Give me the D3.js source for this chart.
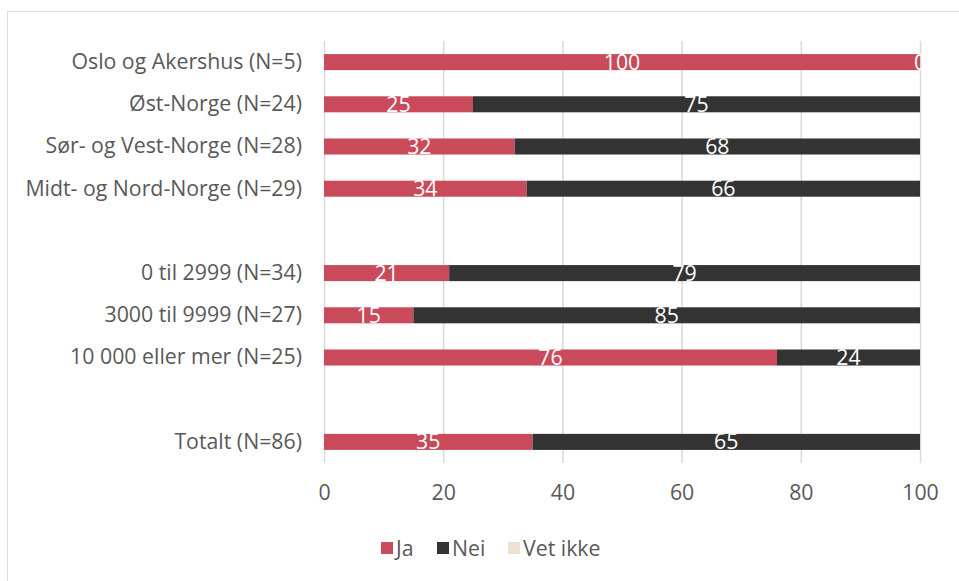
<!DOCTYPE html>
<html>
<head>
<meta charset="utf-8">
<script src="https://cdn.jsdelivr.net/npm/d3@7/dist/d3.min.js"></script>
<style>
  html, body { margin: 0; padding: 0; background: #fff; }
  svg { display: block; font-family: "Open Sans", sans-serif; }
</style>
</head>
<body>
<svg id="chart" width="959" height="581"></svg>
<script>
// Categories top to bottom; empty strings are spacer rows between groups
const categories = [
  "Oslo og Akershus (N=5)",
  "Øst-Norge (N=24)",
  "Sør- og Vest-Norge (N=28)",
  "Midt- og Nord-Norge (N=29)",
  "",
  "0 til 2999 (N=34)",
  "3000 til 9999 (N=27)",
  "10 000 eller mer (N=25)",
  " ",
  "Totalt (N=86)"
];
const jaValues      = [100, 25, 32, 34, null, 21, 15, 76, null, 35];
const neiValues     = [0, 75, 68, 66, null, 79, 85, 24, null, 65];
const vetIkkeValues = [null, null, null, null, null, null, null, null, null, null];
const seriesNames   = ["Ja", "Nei", "Vet ikke"];
const seriesColors  = ["#c94b5b", "#333333", "#ede1d1"];
const xTicks        = [0, 20, 40, 60, 80, 100];

const FONT = "'Open Sans', sans-serif";
const FS = "21.3px";

const svg = d3.select("#chart");

// outer chart frame
svg.append("rect")
  .attr("x", 7.5).attr("y", 11.5)
  .attr("width", 970).attr("height", 600)
  .attr("fill", "none").attr("stroke", "#d9d9d9").attr("stroke-width", 1);

const plot = { left: 324, right: 920, top: 41, bottom: 463 };

const x = d3.scaleLinear().domain([0, 100]).range([plot.left, plot.right]);
const y = d3.scaleBand().domain(categories).range([plot.top, plot.bottom]).paddingInner(0.62).paddingOuter(0.31);

// vertical gridlines
svg.append("g").selectAll("line").data(xTicks).join("line")
  .attr("x1", d => x(d) + 0.5).attr("x2", d => x(d) + 0.5)
  .attr("y1", plot.top).attr("y2", plot.bottom)
  .attr("stroke", "#d9d9d9").attr("stroke-width", 1.5);

// x-axis tick labels
const xAxis = d3.axisBottom(x).tickValues(xTicks).tickSize(0).tickPadding(0);
const gx = svg.append("g").attr("transform", `translate(0,${plot.bottom + 22})`).call(xAxis);
gx.select(".domain").remove();
gx.selectAll("text").attr("fill", "#595959").style("font-size", FS).attr("font-family", FONT);

// category labels
const yAxis = d3.axisLeft(y).tickSize(0).tickPadding(22);
const gy = svg.append("g").attr("transform", `translate(${plot.left},0)`).call(yAxis);
gy.select(".domain").remove();
gy.selectAll("text").attr("fill", "#595959").style("font-size", FS).attr("font-family", FONT);

// stacked series
const rows = categories.map((c, i) => ({
  cat: c,
  vals: [jaValues[i], neiValues[i], vetIkkeValues[i]]
}));

const segs = [];
rows.forEach(r => {
  let acc = 0;
  r.vals.forEach((v, k) => {
    if (v === null) return;
    segs.push({ cat: r.cat, k, v, x0: acc, x1: acc + v });
    acc += v;
  });
});

svg.append("g").selectAll("rect").data(segs).join("rect")
  .attr("x", d => x(d.x0))
  .attr("width", d => x(d.x1) - x(d.x0))
  .attr("y", d => y(d.cat))
  .attr("height", y.bandwidth())
  .attr("fill", d => seriesColors[d.k]);

// value labels centred in each segment
svg.append("g").selectAll("text").data(segs).join("text")
  .attr("x", d => (x(d.x0) + x(d.x1)) / 2)
  .attr("y", d => y(d.cat) + y.bandwidth() / 2 + 7.5)
  .attr("text-anchor", "middle")
  .attr("fill", "#ffffff")
  .style("font-size", FS)
  .text(d => d.v);

// legend
const legendItems = [
  { name: seriesNames[0], color: seriesColors[0], x: 381 },
  { name: seriesNames[1], color: seriesColors[1], x: 437 },
  { name: seriesNames[2], color: seriesColors[2], x: 508 }
];
const lg = svg.append("g").selectAll("g").data(legendItems).join("g")
  .attr("transform", d => `translate(${d.x},542)`);
lg.append("rect").attr("width", 12).attr("height", 12).attr("fill", d => d.color);
lg.append("text").attr("x", 15).attr("y", 14).attr("fill", "#595959")
  .style("font-size", FS).text(d => d.name);
</script>
</body>
</html>
